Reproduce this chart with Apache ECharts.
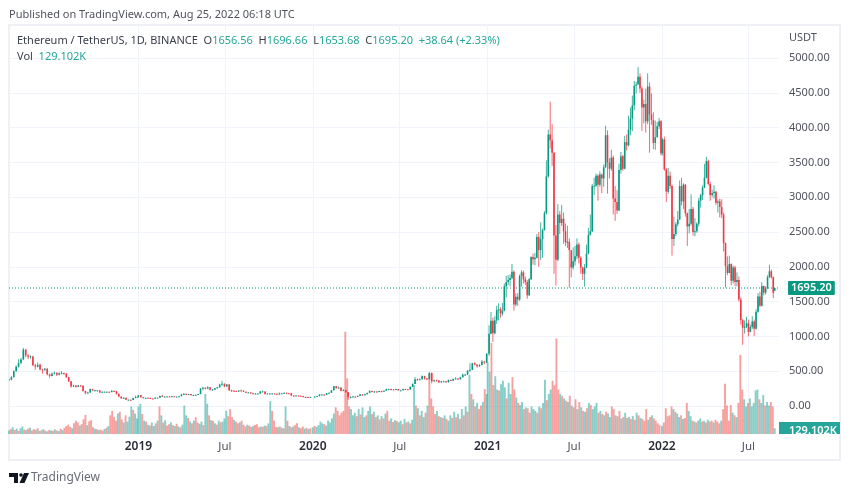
<!DOCTYPE html>
<html>
<head>
<meta charset="utf-8">
<style>html,body{margin:0;background:#fff}#main{width:850px;height:494px;filter:blur(0.3px)}</style>
<script src="https://cdn.jsdelivr.net/npm/echarts@6/dist/echarts.min.js"></script>
</head>
<body>
<div id="main"></div>
<script>
// [open, close, low, high], one candle every 5 days
var candles2018 = [[380,378,365,392],[378,415,372,428],[415,500,410,512],[500,565,495,585],[565,618,555,672],[618,670,600,690],[670,810,660,835],[810,725,700,820],[725,708,675,745],[708,712,680,725],[712,585,575,720],[585,565,520,605],[565,592,555,625],[592,525,515,610],[525,520,465,535],[520,535,500,545],[535,455,440,545],[455,432,405,465],[432,465,425,480],[465,478,455,495],[478,450,430,482],[450,470,440,485],[470,475,455,500],[475,465,450,480],[465,415,405,470],[415,355,345,420],[355,280,265,360],[280,295,275,305],[295,275,265,300],[275,295,270,300],[295,290,280,298],[290,215,205,295],[215,185,168,220],[185,195,178,205],[195,245,190,250],[245,225,218,248],[225,225,215,232],[225,225,218,230],[225,195,188,228],[195,205,192,210],[205,205,200,208],[205,205,200,208],[205,200,195,208],[200,220,198,225],[220,212,205,222],[212,175,165,215],[175,135,125,178],[135,110,102,140],[110,120,105,125],[120,90,88,122],[90,90,83,95],[90,85,82,92],[85,115,84,120],[115,130,112,150],[130,133,125,140]];
var candles2019 = [[133,155,130,160],[155,125,120,158],[125,115,112,128],[115,118,114,122],[118,115,112,120],[115,108,104,117],[108,106,102,110],[106,120,105,125],[120,120,117,123],[120,145,118,150],[145,135,130,160],[135,135,130,138],[135,138,132,140],[138,132,130,140],[132,140,130,143],[140,135,133,142],[135,135,132,138],[135,142,133,145],[142,165,140,175],[165,175,160,185],[175,160,155,178],[160,172,158,175],[172,155,150,174],[155,160,150,163],[160,160,155,165],[160,172,158,175],[172,250,170,260],[250,262,225,275],[262,250,240,268],[250,268,245,285],[268,235,225,270],[235,235,228,245],[235,255,230,260],[255,270,250,275],[270,310,265,320],[310,320,290,362],[320,280,270,325],[280,310,275,315],[310,225,218,315],[225,220,205,235],[220,215,210,228],[215,210,205,220],[210,222,208,230],[222,220,215,235],[220,205,200,225],[205,195,185,208],[195,195,190,200],[195,185,180,198],[185,178,170,188],[178,178,172,185],[178,180,175,185],[180,210,178,215],[210,210,205,222],[210,173,165,212],[173,180,170,183],[180,180,175,185],[180,180,175,183],[180,175,170,182],[175,170,160,178],[170,180,165,195],[180,182,178,188],[182,190,178,195],[190,185,182,193],[185,183,180,190],[183,150,145,185],[150,148,135,155],[148,150,145,155],[150,147,145,152],[147,143,140,150],[143,130,125,145],[130,128,120,135],[128,125,122,135],[125,130,124,133]];
var candles2020 = [[130,135,126,138],[135,143,132,148],[143,165,140,172],[165,165,160,170],[165,160,152,168],[160,185,158,188],[185,190,180,195],[190,225,188,232],[225,285,222,290],[285,260,245,288],[260,265,255,280],[265,218,210,270],[218,228,215,240],[228,200,192,232],[200,125,90,202],[125,130,112,140],[130,135,125,145],[135,132,125,140],[132,145,130,150],[145,165,142,175],[165,158,150,172],[158,170,152,178],[170,188,165,192],[188,215,185,228],[215,205,195,220],[205,210,190,215],[210,203,195,212],[203,214,198,218],[214,208,200,218],[208,220,205,225],[220,244,218,248],[244,245,235,250],[245,238,225,250],[238,232,225,240],[232,244,230,250],[244,225,220,248],[225,225,220,232],[225,245,222,250],[245,240,235,248],[240,238,232,242],[238,275,235,280],[275,318,272,325],[318,385,315,415],[385,380,365,395],[380,385,370,395],[385,430,380,440],[430,395,380,435],[395,385,375,405],[385,475,380,490],[475,355,325,480],[355,370,345,380],[370,365,355,380],[365,340,330,372],[340,355,335,360],[355,355,345,362],[355,340,335,362],[340,375,338,380],[375,365,360,382],[365,390,360,395],[390,395,385,415],[395,385,375,400],[385,415,380,420],[415,450,405,465],[450,450,440,465],[450,510,445,515],[510,520,490,615],[520,615,515,620],[615,595,585,630],[595,570,550,600],[570,590,565,600],[590,640,585,660],[640,625,600,650],[625,750,620,760]];
// one candle every 4 days
var candles2021 = [[750,1040,720,1160],[1040,1225,1030,1350],[1225,1045,920,1270],[1045,1230,1030,1290],[1230,1380,1180,1440],[1380,1390,1230,1475],[1390,1330,1270,1420],[1330,1370,1300,1480],[1370,1720,1360,1760],[1720,1780,1560,1870],[1780,1810,1740,1880],[1810,1840,1720,1890],[1840,1930,1820,2040],[1930,1460,1370,1950],[1460,1570,1430,1620],[1570,1530,1440,1620],[1530,1870,1510,1890],[1870,1920,1720,1950],[1920,1820,1760,1945],[1820,1780,1740,1860],[1780,1590,1540,1810],[1590,1820,1580,1840],[1820,2140,1810,2150],[2140,2110,2030,2190],[2110,2130,2020,2200],[2130,2430,2120,2470],[2430,2240,2000,2500],[2240,2400,2100,2640],[2400,2530,2130,2550],[2530,2770,2520,2800],[2770,3300,2750,3530],[3300,3900,3280,3970],[3900,3820,3700,4372],[3820,3640,3450,4050],[3640,2450,1900,3650],[2450,2100,1730,2600],[2100,2750,2080,2900],[2750,2630,2470,2800],[2630,2690,2590,2890],[2690,2510,2330,2780],[2510,2355,2300,2620],[2355,2360,2270,2590],[2360,2240,1700,2410],[2240,1990,1850,2040],[1990,2080,1960,2280],[2080,2150,2020,2300],[2150,2320,2110,2410],[2320,2130,2050,2350],[2130,1990,1900,2150],[1990,1900,1810,2000],[1900,1990,1715,2040],[1990,2190,1980,2320],[2190,2460,2180,2560],[2460,2510,2450,2750],[2510,3160,2500,3190],[3160,3165,3030,3280],[3165,3310,3150,3340],[3310,3180,2950,3330],[3180,3325,3150,3370],[3325,3270,3060,3340],[3270,3430,3150,3470],[3430,3890,3420,4027],[3890,3500,3050,3960],[3500,3410,3270,3560],[3410,3570,3380,3680],[3570,2980,2750,3600],[2980,2930,2660,3160],[2930,2810,2760,3100],[2810,3390,2800,3480],[3390,3590,3340,3650],[3590,3410,3380,3610],[3410,3790,3400,3880],[3790,3745,3670,3900],[3745,3970,3730,4170],[3970,4130,3890,4290],[4130,4320,3950,4460],[4320,4600,4250,4670],[4600,4620,4490,4660],[4620,4730,4620,4868],[4730,4560,4500,4780],[4560,4290,3950,4590],[4290,4340,4060,4400],[4340,4090,3930,4560],[4090,4590,4050,4780],[4590,4190,3640,4650],[4190,4110,4040,4490],[4110,3780,3690,4220],[3780,3860,3680,4100],[3860,4020,3860,4080],[4020,4090,3980,4140],[4090,3630,3600,4110]];
var candles2022 = [[3630,3830,3600,3850],[3830,3400,3380,3870],[3400,3080,2930,3420],[3080,3310,3050,3420],[3310,3160,3120,3370],[3160,2400,2160,3180],[2400,2470,2300,2720],[2470,2610,2440,2640],[2610,2680,2580,2800],[2680,3160,2670,3240],[3160,2940,2880,3280],[2940,3180,2830,3200],[3180,2770,2720,3190],[2770,2580,2300,2780],[2580,2620,2480,2830],[2620,2830,2590,3040],[2830,2500,2450,2860],[2500,2510,2440,2700],[2510,2620,2490,2640],[2620,2950,2580,2990],[2950,3030,2850,3050],[3030,3140,2960,3170],[3140,3280,3130,3480],[3280,3520,3270,3580],[3520,3190,3170,3540],[3190,3030,2950,3220],[3030,3060,3000,3110],[3060,3080,2980,3170],[3080,2920,2890,3090],[2920,2940,2780,2970],[2940,2860,2710,2980],[2860,2750,2700,2970],[2750,2340,2220,2780],[2340,2010,1705,2350],[2010,1910,1880,2150],[1910,2040,1910,2160],[2040,1800,1735,2050],[1800,1990,1760,2020],[1990,1780,1720,2015],[1780,1810,1720,1920],[1810,1530,1500,1860],[1530,1235,1170,1560],[1235,1125,880,1250],[1125,1140,1040,1230],[1140,1190,1120,1280],[1190,1065,1000,1240],[1065,1135,1060,1170],[1135,1215,1110,1290],[1215,1110,1005,1240],[1110,1355,1100,1390],[1355,1575,1340,1620],[1575,1440,1420,1640],[1440,1725,1430,1780],[1725,1630,1590,1730],[1630,1690,1600,1720],[1690,1850,1680,1880],[1850,1935,1840,2030],[1935,1850,1830,1960],[1850,1625,1550,1860]];
var candlesLast = [[1656.56,1695.2,1653.68,1696.66]];

// volume in K, one bar every 4 days, negative = down day
var vol2018 = [80,-110,150,-90,120,-70,130,170,-100,90,-120,140,-80,-110,95,-130,70,-85,110,-75,60,-90,80,-70,105,-80,65,-120,90,-140,-180,-210,-160,130,-240,-300,-260,190,-220,-330,-430,200,-290,-310,-150,120,-110,90,-100,-80,115,-140,180,-420,-520,-380,-300,460,-500,-330,260,-420,280,390,620,-540,460,350];
var vol2019 = [620,680,-450,300,-280,210,-190,260,180,-240,300,-620,420,-260,310,-190,-220,260,-200,180,-230,170,-150,210,640,420,-360,280,-240,300,-380,-260,230,280,-200,900,680,-420,310,-300,240,-210,300,-260,280,350,520,-400,-560,-380,320,-280,-240,260,-300,-210,-170,210,-190,-160,180,-200,-220,-150,170,-160,190,-180,240,740,-520,-300,-160,150,-170,140,-130,620,-300,180,-150,170,-200,-240,150,-130,-170,120,-140,110,-130];
var vol2020 = [150,-180,160,200,280,240,-220,190,300,260,350,460,-600,-520,-420,-480,-520,-2300,-1250,-620,560,420,480,-400,560,-440,600,380,-420,520,620,-450,500,-380,420,-330,400,-350,460,-520,-300,350,-270,310,-290,260,300,-220,340,-260,280,-240,320,1100,-640,580,-420,520,380,-480,640,-1350,-800,-620,-450,520,-400,380,-360,420,-340,300,420,-360,500,-380,450,-340,560,-420,620,-500,1330,-900,780,-620,700,-560,-640,720,-1010,900];
var vol2021 = [1620,1400,-2050,-1100,1300,1000,-980,1120,1200,1050,-800,1150,900,-1280,-1000,820,-700,650,720,-560,600,-580,-480,620,560,520,-480,620,-580,700,1220,-760,900,1000,-1200,-1100,-2150,-1000,900,-850,800,-750,720,-860,640,-600,-780,560,-720,600,-520,500,-580,700,-650,560,620,700,-480,520,-450,420,-500,460,380,-620,-560,420,-400,-520,350,-380,480,-360,380,-340,400,-320,480,-420,360,-340,-300,-560,320,-380,420,-350,-300,-240,-200];
var vol2022 = [180,-260,-580,-400,-420,-620,560,-500,460,380,-420,340,-360,-700,520,400,-300,280,-260,300,350,-280,300,-260,320,-280,-300,260,-320,-280,-240,300,-560,-1130,-640,-300,-650,480,-420,380,-700,-1780,-1000,780,620,-700,800,620,700,980,1000,-780,700,880,-640,720,640,-720,-620,129];

// price axis and time axis marks
var priceTicks = [0,500,1000,1500,2000,2500,3000,3500,4000,4500,5000];
var timeTicks = ['2019-01-01','2019-07-01','2020-01-01','2020-07-01','2021-01-01','2021-07-01','2022-01-01','2022-07-01'];
var lastPrice = 1695.2;

var UP = '#089981', DOWN = '#f23645';
var DAY = 86400000;
var xMin = Date.parse('2018-04-05'), xMax = Date.parse('2022-09-03');

function addCandles(out, start, step, list) {
  var t = Date.parse(start);
  for (var i = 0; i < list.length; i++) {
    out.push([t + i * step * DAY].concat(list[i]));
  }
}
function addVol(out, start, list) {
  var t = Date.parse(start);
  for (var i = 0; i < list.length; i++) {
    out.push({
      value: [t + i * 4 * DAY, Math.abs(list[i])],
      itemStyle: { color: list[i] < 0 ? 'rgba(239,83,80,0.55)' : 'rgba(38,166,154,0.55)' }
    });
  }
}

// thin candlestick series comes out with black wicks, so draw wick + body by hand
function renderCandle(params, api) {
  var t = api.value(0), o = api.value(1), c = api.value(2);
  var x = api.coord([t, o])[0];
  var yO = api.coord([t, o])[1], yC = api.coord([t, c])[1];
  var yL = api.coord([t, api.value(3)])[1], yH = api.coord([t, api.value(4)])[1];
  var col = c >= o ? UP : DOWN;
  return {
    type: 'group',
    children: [
      { type: 'line', shape: { x1: x, y1: yH, x2: x, y2: yL }, style: { stroke: col, lineWidth: 1, opacity: 0.75 } },
      { type: 'rect', shape: { x: x - 0.8, y: Math.min(yO, yC), width: 1.6, height: Math.max(1, Math.abs(yO - yC)) }, style: { fill: col } }
    ]
  };
}

var candleData = [];
addCandles(candleData, '2018-04-05', 5, candles2018);
addCandles(candleData, '2019-01-01', 5, candles2019);
addCandles(candleData, '2020-01-05', 5, candles2020);
addCandles(candleData, '2021-01-04', 4, candles2021);
addCandles(candleData, '2022-01-02', 4, candles2022);
addCandles(candleData, '2022-08-25', 1, candlesLast);

var volData = [];
addVol(volData, '2018-04-05', vol2018);
addVol(volData, '2019-01-01', vol2019);
addVol(volData, '2020-01-01', vol2020);
addVol(volData, '2021-01-01', vol2021);
addVol(volData, '2022-01-01', vol2022);

var tickMs = timeTicks.map(function (d) { return Date.parse(d); });
var font = '"Noto Sans", sans-serif';
var chart = echarts.init(document.getElementById('main'));

var option = {
  animation: false,
  backgroundColor: '#fff',
  grid: { left: 9, right: 71, top: 25, bottom: 60 },
  xAxis: {
    type: 'value',
    scale: true,
    min: xMin,
    max: xMax,
    axisLine: { show: false },
    axisTick: { show: false, customValues: tickMs },
    splitLine: { show: true, lineStyle: { color: '#f0f3fa', width: 1 } },
    axisLabel: {
      customValues: tickMs,
      margin: 7,
      hideOverlap: false,
      formatter: function (v) {
        var d = new Date(v);
        return d.getUTCMonth() === 0 ? '{y|' + d.getUTCFullYear() + '}' : '{m|Jul}';
      },
      rich: {
        y: { fontFamily: font, fontSize: 12, fontWeight: 600, color: '#2a2e39' },
        m: { fontFamily: font, fontSize: 11.5, color: '#50535e' }
      }
    }
  },
  yAxis: [{
    type: 'value',
    position: 'right',
    min: -402,
    max: 5474,
    axisLine: { show: false },
    axisTick: { show: false, customValues: priceTicks },
    splitLine: { show: true, lineStyle: { color: '#f0f3fa', width: 1 } },
    axisLabel: {
      customValues: priceTicks,
      margin: 10,
      fontFamily: font,
      fontSize: 11,
      color: '#50535e',
      formatter: function (v) { return v.toFixed(2); }
    }
  }, {
    type: 'value',
    show: false,
    min: 0,
    max: 9200
  }],
  series: [{
    type: 'bar',
    yAxisIndex: 1,
    barWidth: 1.9,
    z: 1,
    data: volData,
    encode: { x: 0, y: 1 }
  }, {
    type: 'custom',
    yAxisIndex: 0,
    z: 3,
    clip: true,
    encode: { x: 0, y: [1, 2, 3, 4] },
    data: candleData,
    renderItem: renderCandle
  }, {
    // last price line with its tag
    type: 'line',
    yAxisIndex: 0,
    z: 4,
    silent: true,
    showSymbol: false,
    data: [[xMin, lastPrice], [xMax, lastPrice]],
    lineStyle: { color: '#089981', type: [1, 2], width: 1 },
    endLabel: {
      show: true,
      distance: 9,
      formatter: lastPrice.toFixed(2),
      color: '#fff',
      fontFamily: font,
      fontSize: 11,
      fontWeight: 600,
      backgroundColor: UP,
      padding: [2, 3, 1, 3],
      borderRadius: 1
    }
  }],
  graphic: [
    { type: 'rect', silent: true, z: 0, shape: { x: 9, y: 25, width: 831, height: 435 }, style: { fill: 'none', stroke: '#eef0f5', lineWidth: 2 } },
    { type: 'text', x: 9, y: 9, style: { text: 'Published on TradingView.com, Aug 25, 2022 06:18 UTC', fill: '#50535e', font: '11px ' + font } },
    {
      type: 'text', x: 17, y: 35, z: 10,
      style: {
        text: 'Ethereum / TetherUS, 1D, BINANCE  O{g|1656.56}  H{g|1696.66}  L{g|1653.68}  C{g|1695.20}  {g|+38.64 (+2.33%)}',
        fill: '#3a3e4a', font: '11px ' + font,
        rich: { g: { fill: '#26a69a', font: '11px ' + font } }
      }
    },
    {
      type: 'text', x: 17, y: 51, z: 10,
      style: {
        text: 'Vol  {g|129.102K}', fill: '#3a3e4a', font: '11px ' + font,
        rich: { g: { fill: '#26a69a', font: '11px ' + font } }
      }
    },
    { type: 'text', x: 789, y: 32, style: { text: 'USDT', fill: '#50535e', font: '11px ' + font } },
    { type: 'rect', z: 10, shape: { x: 779, y: 422, width: 61, height: 12 }, style: { fill: '#26a69a' } },
    { type: 'text', z: 11, x: 789, y: 425, style: { text: '129.102K', fill: '#fff', font: '600 11px ' + font } },
    { type: 'rect', z: 12, shape: { x: 779, y: 434, width: 60, height: 4 }, style: { fill: '#fff' } },
    { type: 'text', x: 31, y: 472, style: { text: 'TradingView', fill: '#6a6d78', font: '12px ' + font } },
    { type: 'polygon', shape: { points: [[9, 473], [18, 473], [18, 483], [14, 483], [14, 477], [9, 477]] }, style: { fill: '#131722' } },
    { type: 'polygon', shape: { points: [[24, 473], [29, 473], [24.5, 483], [19.5, 483]] }, style: { fill: '#131722' } },
    { type: 'circle', shape: { cx: 21, cy: 475, r: 1.8 }, style: { fill: '#131722' } }
  ]
};
chart.setOption(option);
</script>
</body>
</html>
